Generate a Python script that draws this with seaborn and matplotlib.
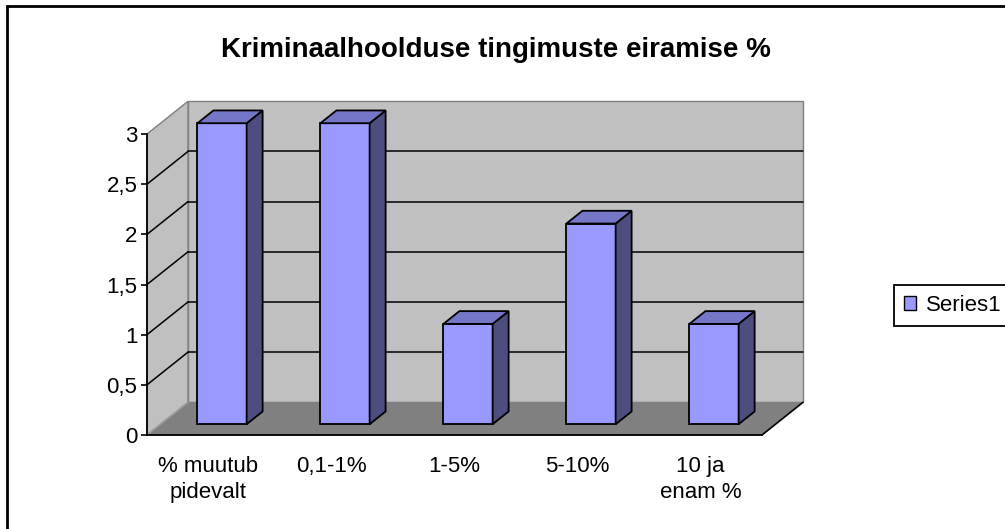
import matplotlib
matplotlib.use("Agg")
import matplotlib.pyplot as plt
from matplotlib.patches import Polygon, Rectangle, Patch
from matplotlib.lines import Line2D
import numpy as np
import pandas as pd
import seaborn as sns

# ---- data ----
categories = ["% muutub\npidevalt", "0,1-1%", "1-5%", "5-10%", "10 ja\nenam %"]
values = [3, 3, 1, 2, 1]
y_ticks = [0, 0.5, 1, 1.5, 2, 2.5, 3]
y_tick_labels = ["0", "0,5", "1", "1,5", "2", "2,5", "3"]
series_name = "Series1"
title = "Kriminaalhoolduse tingimuste eiramise %"

# ---- style ----
sns.set_style("white")
plt.rcParams["font.family"] = ["Liberation Sans", "DejaVu Sans"]
plt.rcParams["text.color"] = "black"
plt.rcParams["xtick.color"] = "black"
plt.rcParams["ytick.color"] = "black"
plt.rcParams["xtick.labelcolor"] = "black"
plt.rcParams["ytick.labelcolor"] = "black"

W, H = 1005, 529
fig = plt.figure(figsize=(W / 100, H / 100), dpi=100)

FRONT = "#9999FF"
SIDE = "#4D4D80"
TOP = "#7676C8"
WALL = "#C0C0C0"
FLOOR = "#808080"
EDGE = "#808080"

# front plane of the 3D box (pixels, from top)
x_left, x_right = 147, 762
y_zero, y_top = 435, 134
ax = fig.add_axes([x_left / W, (H - y_zero) / H, (x_right - x_left) / W, (y_zero - y_top) / H])
ax.patch.set_visible(False)

df = pd.DataFrame({"cat": categories, "val": values})
sns.barplot(data=df, x="cat", y="val", color=FRONT, saturation=1, width=0.4,
            edgecolor="black", linewidth=1.3, ax=ax, zorder=5)
bars = list(ax.patches)
ax.set_xlim(-0.5, len(categories) - 0.5)
ax.set_ylim(0, 3)

# depth vector in display pixels (y up)
D = np.array([41.0, 32.7])
tf, tb = 0.33, 0.72
inv = fig.transFigure.inverted()


def proj(x, y, t):
    p = ax.transData.transform((x, y)) + t * D
    return inv.transform(p)


def poly(pts, fc, ec, lw, z):
    pg = Polygon([proj(*p) for p in pts], closed=True, facecolor=fc, edgecolor=ec,
                 linewidth=lw, transform=fig.transFigure, clip_on=False, zorder=z)
    ax.add_artist(pg)


def line(p0, p1, c, lw, z):
    a, b = proj(*p0), proj(*p1)
    ax.add_artist(Line2D([a[0], b[0]], [a[1], b[1]], color=c, linewidth=lw,
                         transform=fig.transFigure, clip_on=False, zorder=z))


x0, x1 = -0.5, len(categories) - 0.5
ymax = 3
# walls and floor
poly([(x0, 0, 1), (x1, 0, 1), (x1, ymax, 1), (x0, ymax, 1)], WALL, EDGE, 1.0, 0.5)
poly([(x0, 0, 0), (x0, 0, 1), (x0, ymax, 1), (x0, ymax, 0)], WALL, EDGE, 1.0, 0.6)
poly([(x0, 0, 0), (x1, 0, 0), (x1, 0, 1), (x0, 0, 1)], FLOOR, FLOOR, 0.5, 0.7)
line((x1, 0, 0), (x1, 0, 1), "black", 1.2, 0.8)
line((x0, 0, 0), (x0, 0, 1), "#A0A0A0", 1.0, 0.8)
# gridlines
for v in y_ticks[1:-1]:
    line((x0, v, 1), (x1, v, 1), "black", 1.1, 0.9)
    line((x0, v, 0), (x0, v, 1), "black", 1.1, 0.9)

# bars: shift fronts and add side/top faces
off = matplotlib.transforms.ScaledTranslation(tf * D[0] / 100, tf * D[1] / 100, fig.dpi_scale_trans)
for p in bars:
    bx, bw, bh = p.get_x(), p.get_width(), p.get_height()
    p.set_transform(ax.transData + off)
    p.set_clip_on(False)
    p.set_zorder(5)
    poly([(bx + bw, 0, tf), (bx + bw, 0, tb), (bx + bw, bh, tb), (bx + bw, bh, tf)], SIDE, "black", 1.3, 5)
    poly([(bx, bh, tf), (bx + bw, bh, tf), (bx + bw, bh, tb), (bx, bh, tb)], TOP, "black", 1.3, 5)

# axes
for s in ["top", "right"]:
    ax.spines[s].set_visible(False)
for s in ["left", "bottom"]:
    ax.spines[s].set_color("black")
    ax.spines[s].set_linewidth(1.3)
    ax.spines[s].set_zorder(1)
ax.set_xlabel("")
ax.set_ylabel("")
ax.set_xticks(np.arange(-0.5, len(categories), 1.0))
ax.set_xticklabels([])
ax.set_xticks(np.arange(len(categories)), minor=True)
ax.set_xticklabels(categories, minor=True, fontsize=16, linespacing=1.32, color="black")
ax.tick_params(axis="x", which="major", direction="out", length=5, width=1.2, color="black")
ax.tick_params(axis="x", which="minor", length=0, pad=15)
ax.set_yticks(y_ticks)
ax.set_yticklabels(y_tick_labels, fontsize=16, color="black")
ax.tick_params(axis="y", direction="out", length=4, width=1.2, color="black", pad=3, left=True)
ax.grid(False)

fig.text(496 / W, 1 - 57 / H, title, ha="center", va="baseline", fontsize=20,
         fontweight="bold", color="black")

handle = Patch(facecolor=FRONT, edgecolor="black", linewidth=1.0)
leg = fig.legend(handles=[handle], labels=[series_name], loc="upper left",
                 bbox_to_anchor=(894 / W, 1 - 285 / H), frameon=True, fancybox=False,
                 edgecolor="black", framealpha=1, fontsize=16, handlelength=0.55,
                 handleheight=0.55, handletextpad=0.45, borderpad=0.45, borderaxespad=0,
                 labelcolor="black")
leg.get_frame().set_linewidth(1.3)

fig.patches.append(Rectangle((7 / W, -0.1), 1.2, (H - 6) / H + 0.1, transform=fig.transFigure,
                             fill=False, edgecolor="black", linewidth=2, zorder=10))

fig.savefig("out.png", dpi=100)
